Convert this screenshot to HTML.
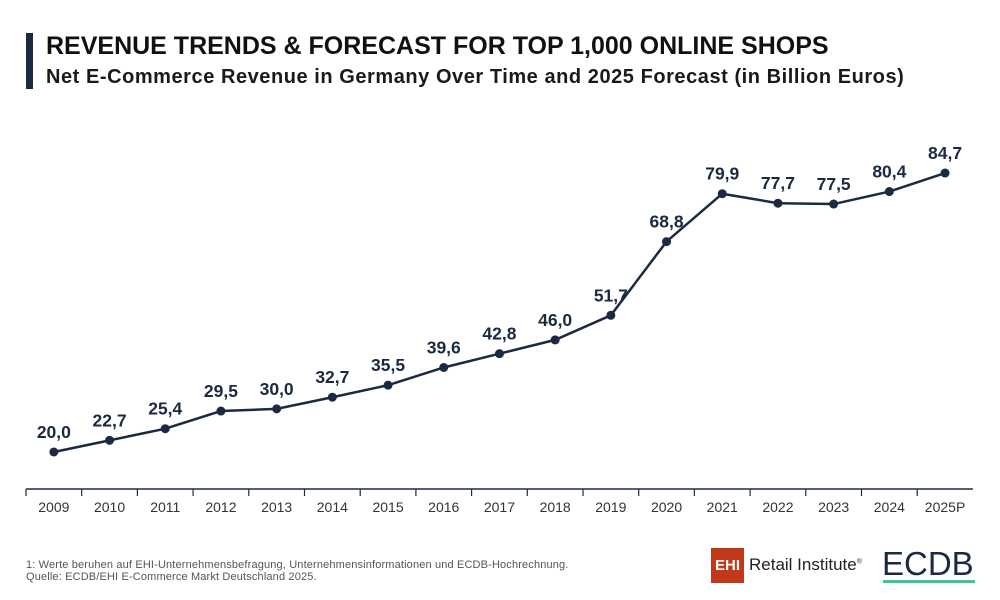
<!DOCTYPE html>
<html><head><meta charset="utf-8"><style>
body{margin:0;width:1000px;height:600px;background:#fff;font-family:"Liberation Sans",sans-serif;overflow:hidden;position:relative}
.t{position:absolute;color:#111;white-space:nowrap}
</style></head><body>
<div style="position:absolute;left:26px;top:33px;width:7px;height:56px;background:#1b2a41"></div>
<div class="t" style="left:46px;top:32px;font-size:25px;font-weight:bold;letter-spacing:0px">REVENUE TRENDS &amp; FORECAST FOR TOP 1,000 ONLINE SHOPS</div>
<div class="t" style="left:46px;top:66px;font-size:20px;font-weight:bold;color:#1a1a1a;letter-spacing:0.55px">Net E-Commerce Revenue in Germany Over Time and 2025 Forecast (in Billion Euros)</div>
<svg id="chart" width="1000" height="600" style="position:absolute;left:0;top:0"></svg>
<div class="t" style="left:26px;top:559px;font-size:11px;color:#555;line-height:12px;letter-spacing:0.15px">1: Werte beruhen auf EHI-Unternehmensbefragung, Unternehmensinformationen und ECDB-Hochrechnung.<br>Quelle: ECDB/EHI E-Commerce Markt Deutschland 2025.</div>
<div style="position:absolute;left:711px;top:548px;width:33px;height:35px;background:#c0391b;color:#fff;font-weight:bold;font-size:15px;line-height:35px;text-align:center">EHI</div>
<div class="t" style="left:749px;top:555px;font-size:17px;color:#222">Retail Institute<sup style="font-size:7px">®</sup></div>
<div class="t" style="left:882px;top:545px;font-size:33px;color:#1b2a41;letter-spacing:0px">ECDB</div>
<div style="position:absolute;left:883px;top:580px;width:92px;height:3px;background:#3fc3a0"></div>
<script>
const categories=["2009","2010","2011","2012","2013","2014","2015","2016","2017","2018","2019","2020","2021","2022","2023","2024","2025P"];
const values=[20.0,22.7,25.4,29.5,30.0,32.7,35.5,39.6,42.8,46.0,51.7,68.8,79.9,77.7,77.5,80.4,84.7];
const labels=["20,0","22,7","25,4","29,5","30,0","32,7","35,5","39,6","42,8","46,0","51,7","68,8","79,9","77,7","77,5","80,4","84,7"];
const svg=document.getElementById('chart');const NS='http://www.w3.org/2000/svg';
const x0=26,step=55.7;
const xs=i=>x0+step*(i+0.5);
const ys=v=>452-(v-20)*4.312;
function mk(t,a){const e=document.createElementNS(NS,t);for(const k in a)e.setAttribute(k,a[k]);svg.appendChild(e);return e;}
const ax=mk('line',{x1:x0,x2:x0+step*categories.length,y1:489,y2:489,stroke:'#1b2a41','stroke-width':1.5});


categories.forEach((c,i)=>{
 const tk=mk('line',{x1:x0+step*i,x2:x0+step*i,y1:489,y2:496,stroke:'#1b2a41','stroke-width':1.2});
 
 
 const tl=mk('text',{x:xs(i),y:512,'text-anchor':'middle','font-size':14,fill:'#333','font-family':'Liberation Sans, sans-serif'});
 tl.textContent=c;
 
 
});
const ln=mk('polyline',{points:values.map((v,i)=>xs(i)+','+ys(v)).join(' '),fill:'none',stroke:'#1b2a41','stroke-width':2.5});


values.forEach((v,i)=>{
 const p=mk('circle',{cx:xs(i),cy:ys(v),r:4.5,fill:'#1b2a41'});
 
 
 const t=mk('text',{x:xs(i),y:ys(v)-14,'text-anchor':'middle','font-size':17.5,'font-weight':'bold',fill:'#1b2a41','font-family':'Liberation Sans, sans-serif'});
 t.textContent=labels[i];
 
 
});
</script>
</body></html>
